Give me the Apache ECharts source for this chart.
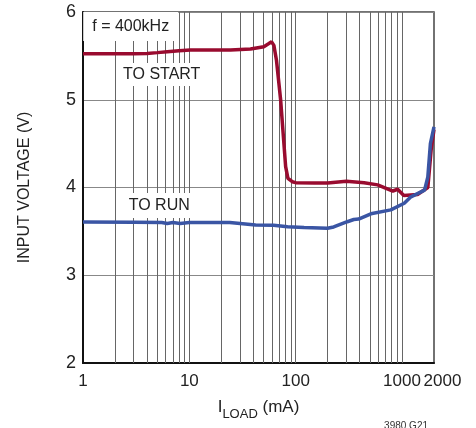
<!DOCTYPE html>
<html>
<head>
<meta charset="utf-8">
<script src="https://cdn.jsdelivr.net/npm/echarts@6/dist/echarts.min.js"></script>
<style>html,body{margin:0;padding:0;background:#fff}#c{width:476px;height:428px}</style>
</head>
<body>
<div id="c"></div>
<script>
// ---- data ----
var startLoad = [1, 2, 3, 4, 5, 6.2, 8, 10.2, 15, 24.4, 37.6, 50.2, 56, 59.4, 62.4, 66, 72.2, 80.5, 84.6, 93, 100, 150, 200, 300, 440, 590, 820, 910, 1040, 1400, 1750, 1880, 2000];
var startVolt = [5.525, 5.525, 5.525, 5.527, 5.537, 5.548, 5.558, 5.567, 5.568, 5.567, 5.578, 5.605, 5.64, 5.66, 5.62, 5.45, 5.0, 4.237, 4.105, 4.066, 4.055, 4.05, 4.05, 4.07, 4.055, 4.03, 3.96, 3.98, 3.91, 3.92, 4.0, 4.43, 4.66];
var runLoad = [1, 3, 5.5, 6.2, 7, 8.2, 10, 24, 42, 62, 84, 120, 199, 228, 306, 352, 391, 510, 785, 1050, 1200, 1630, 1750, 1850, 2000];
var runVolt = [3.607, 3.605, 3.60, 3.59, 3.60, 3.59, 3.60, 3.60, 3.573, 3.57, 3.553, 3.545, 3.535, 3.55, 3.61, 3.635, 3.64, 3.70, 3.745, 3.82, 3.89, 3.97, 4.12, 4.50, 4.69];
var xTickLabels = [1, 10, 100, 1000];
var xEndLabel = [2000];
var xGridValues = [2,3,4,5,6,7,8,9,10,20,30,40,50,60,70,80,90,100,200,300,400,500,600,700,800,900,1000];
var yMin = 2, yMax = 6, yStep = 1;
var annotations = [
  {text: 'f = 400kHz', x: 2.81, y: 5.835, w: 95, h: 29},
  {text: 'TO START', x: 5.50, y: 5.288, w: 86, h: 23},
  {text: 'TO RUN', x: 5.21, y: 3.795, w: 82, h: 25}
];
var FONT = "'Liberation Sans', Arial, sans-serif";

function zip(a, b) { return a.map(function (v, i) { return [v, b[i]]; }); }

var labelBase = {fontFamily: FONT, fontSize: 17, color: '#222', margin: 10, hideOverlap: false,
  showMaxLabel: true, showMinLabel: true, formatter: function (v) { return String(Math.round(v)); }};

var chart = echarts.init(document.getElementById('c'), null, {renderer: 'canvas'});
chart.setOption({
  animation: false,
  backgroundColor: '#fff',
  grid: {left: 83, right: 42, top: 12, bottom: 65, show: true, borderColor: '#444', borderWidth: 1.5, backgroundColor: 'transparent'},
  xAxis: [{
    type: 'log', logBase: 10, min: 1, max: 2000,
    name: '{a|I}{b|LOAD}{a| (mA)}', nameLocation: 'middle', nameGap: 36,
    nameTextStyle: {rich: {
      a: {fontFamily: FONT, fontSize: 17, color: '#222', verticalAlign: 'bottom'},
      b: {fontFamily: FONT, fontSize: 13, color: '#222', verticalAlign: 'bottom', padding: [0, 0, -5, 0]}
    }},
    axisLine: {show: true, lineStyle: {color: '#111', width: 2}},
    axisTick: {show: false},
    splitLine: {show: false},
    axisLabel: Object.assign({customValues: xTickLabels}, labelBase)
  }, {
    type: 'log', logBase: 10, min: 1, max: 2000, position: 'bottom',
    axisLine: {show: false}, axisTick: {show: false}, splitLine: {show: false},
    axisLabel: Object.assign({customValues: xEndLabel}, labelBase, {
      formatter: function (v) { return '\u2002\u2002' + Math.round(v); }
    })
  }],
  yAxis: {
    type: 'value', min: yMin, max: yMax, interval: yStep,
    name: 'INPUT VOLTAGE (V)', nameLocation: 'middle', nameGap: 50,
    nameTextStyle: {fontFamily: FONT, fontSize: 16, color: '#222'},
    axisLine: {show: true, lineStyle: {color: '#111', width: 2}},
    axisTick: {show: false},
    splitLine: {show: true, lineStyle: {color: '#888', width: 1}},
    axisLabel: {fontFamily: FONT, fontSize: 18, color: '#222', margin: 7}
  },
  graphic: [{type: 'text', right: 48, bottom: -3, style: {text: '3980 G21', fontFamily: FONT, fontSize: 10, fill: '#333'}}],
  series: [
    {type: 'line', data: [], z: 1, silent: true,
      markLine: {silent: true, symbol: 'none', label: {show: false}, animation: false,
        lineStyle: {color: '#666', width: 1, type: 'solid'},
        data: xGridValues.map(function (v) { return {xAxis: v}; })}},
    {name: 'TO START', type: 'line', data: zip(startLoad, startVolt), z: 5, showSymbol: false, smooth: false,
      lineStyle: {color: '#990b2f', width: 3.5}, itemStyle: {color: '#990b2f'}},
    {name: 'TO RUN', type: 'line', data: zip(runLoad, runVolt), z: 5, showSymbol: false, smooth: false,
      lineStyle: {color: '#3a55a4', width: 3.5}, itemStyle: {color: '#3a55a4'}},
    {type: 'scatter', data: [], z: 8, silent: true,
      markPoint: {silent: true, animation: false,
        data: annotations.map(function (a) {
          return {coord: [a.x, a.y], symbol: 'rect', symbolSize: [a.w, a.h], itemStyle: {color: '#fff'},
            label: {show: true, position: 'inside', formatter: a.text, fontFamily: FONT, fontSize: 16, color: '#222'}};
        })}}
  ]
});
</script>
</body>
</html>
